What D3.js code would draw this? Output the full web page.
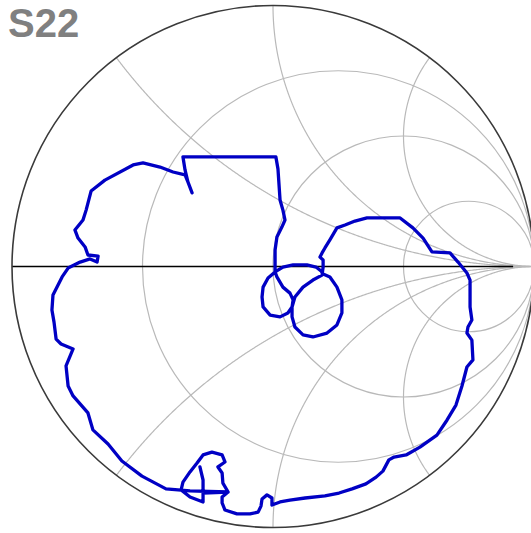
<!DOCTYPE html>
<html><head><meta charset="utf-8">
<script src="https://cdn.jsdelivr.net/npm/d3@7"></script>
<style>html,body{margin:0;padding:0;background:#fff;overflow:hidden}</style>
</head><body><svg id="c" width="531" height="533"></svg>
<script>
const title = "S22";
const resistanceCircles = [1/3, 1, 3];
const reactanceArcs = [0.5, 1, 2, -0.5, -1, -2];
const axisEnd = 0.92;
const gammaRe = [0.008,-0.019,-0.038,-0.042,-0.038,-0.011,0.027,0.057,0.073,0.077,0.065,0.038,0.015,0.008,
 0.038,0.077,0.130,0.165,0.184,0.192,0.218,0.245,0.264,0.264,0.245,0.207,0.153,0.115,0.084,0.073,0.073,0.084,0.115,0.153,0.188,
 0.192,0.192,0.180,0.188,0.199,0.218,0.245,0.276,0.314,0.360,0.487,0.536,0.575,0.609,0.678,0.709,0.743,0.755,0.755,0.762,0.747,0.743,0.762,0.766,
 0.743,0.724,0.701,0.667,0.628,0.563,0.510,0.464,0.444,0.421,0.395,0.356,0.303,0.253,0.199,0.123,0.065,0.027,-0.004,-0.004,-0.023,-0.042,-0.046,-0.057,
 -0.088,-0.138,-0.184,-0.195,-0.195,-0.172,-0.192,-0.195,-0.211,-0.184,-0.195,-0.234,-0.268,-0.291,-0.318,-0.345,-0.352,-0.318,-0.268,-0.268,-0.280,-0.268,-0.268,-0.172,-0.318,
 -0.410,-0.502,-0.579,-0.632,-0.690,-0.709,-0.766,-0.785,-0.793,-0.766,-0.812,-0.831,-0.839,-0.847,-0.843,-0.808,-0.785,-0.739,-0.701,-0.674,-0.670,-0.709,-0.720,-0.747,-0.759,
 -0.728,-0.716,-0.697,-0.644,-0.536,-0.498,-0.433,-0.383,-0.337,-0.326,-0.310,-0.326,-0.337,-0.345,0.011,0.019,0.027,0.038,0.046,0.034,0.015,0.008,0.008];
const gammaIm = [-0.021,-0.044,-0.079,-0.117,-0.155,-0.186,-0.193,-0.178,-0.155,-0.128,-0.102,-0.079,-0.040,-0.021,
 -0.002,0.006,0.006,-0.002,-0.017,-0.029,-0.040,-0.079,-0.128,-0.178,-0.224,-0.255,-0.270,-0.262,-0.232,-0.193,-0.155,-0.117,-0.079,-0.052,-0.033,
 -0.002,0.025,0.036,0.052,0.071,0.102,0.148,0.159,0.174,0.186,0.186,0.148,0.109,0.056,0.052,0.017,-0.025,-0.052,-0.155,-0.205,-0.232,-0.255,-0.282,-0.358,
 -0.385,-0.458,-0.531,-0.588,-0.646,-0.692,-0.722,-0.730,-0.741,-0.784,-0.807,-0.833,-0.852,-0.868,-0.879,-0.887,-0.895,-0.902,-0.914,-0.887,-0.875,-0.891,-0.918,-0.941,
 -0.948,-0.948,-0.933,-0.906,-0.883,-0.864,-0.830,-0.791,-0.768,-0.749,-0.722,-0.711,-0.722,-0.753,-0.787,-0.826,-0.856,-0.883,-0.902,-0.818,-0.768,-0.818,-0.868,-0.864,-0.860,
 -0.852,-0.803,-0.745,-0.680,-0.626,-0.561,-0.496,-0.458,-0.381,-0.316,-0.297,-0.278,-0.213,-0.167,-0.109,-0.040,-0.006,0.017,0.029,0.017,0.040,0.044,0.075,0.109,0.140,
 0.178,0.216,0.289,0.331,0.389,0.397,0.381,0.362,0.351,0.324,0.282,0.324,0.370,0.420,0.420,0.374,0.255,0.216,0.178,0.151,0.113,0.063,-0.021];

const cx = 273, cy = 266.5, R = 261;
const x = d3.scaleLinear().domain([-1, 1]).range([cx - R, cx + R]);
const y = d3.scaleLinear().domain([-1, 1]).range([cy + R, cy - R]);
const svg = d3.select("#c");
svg.append("rect").attr("width", 531).attr("height", 533).attr("fill", "#fff");

const toGamma = (r, xx) => {
  const den = (r + 1) * (r + 1) + xx * xx;
  return [(r * r - 1 + xx * xx) / den, (2 * xx) / den];
};
const line = d3.line().x(d => x(d[0])).y(d => y(d[1]));
const grid = svg.append("g").attr("fill", "none").attr("stroke", "#b9b9b9").attr("stroke-width", 1.2);

grid.selectAll("circle").data(resistanceCircles).join("circle")
  .attr("cx", r => x(r / (r + 1))).attr("cy", y(0))
  .attr("r", r => x(1 / (r + 1)) - x(0));

const ts = d3.range(0, 1, 0.0025);
grid.selectAll("path").data(reactanceArcs).join("path")
  .attr("d", xx => line(ts.map(t => toGamma(t / (1 - t), xx))));

svg.append("line")
  .attr("x1", x(-1)).attr("x2", x(axisEnd)).attr("y1", y(0)).attr("y2", y(0))
  .attr("stroke", "#000").attr("stroke-width", 1.5);

svg.append("circle").attr("cx", x(0)).attr("cy", y(0)).attr("r", x(1) - x(0))
  .attr("fill", "none").attr("stroke", "#3a3a3a").attr("stroke-width", 1.6);

const pts = gammaRe.map((re, i) => [re, gammaIm[i]]);
svg.append("path").attr("d", line(pts))
  .attr("fill", "none").attr("stroke", "#0000c4").attr("stroke-width", 3.3)
  .attr("stroke-linejoin", "round").attr("stroke-linecap", "round");

svg.append("text").attr("x", 8).attr("y", 37).text(title)
  .attr("font-family", "'Liberation Sans', Arial, sans-serif").attr("font-weight", "bold")
  .attr("font-size", 40).attr("fill", "#808080");
</script></body></html>
